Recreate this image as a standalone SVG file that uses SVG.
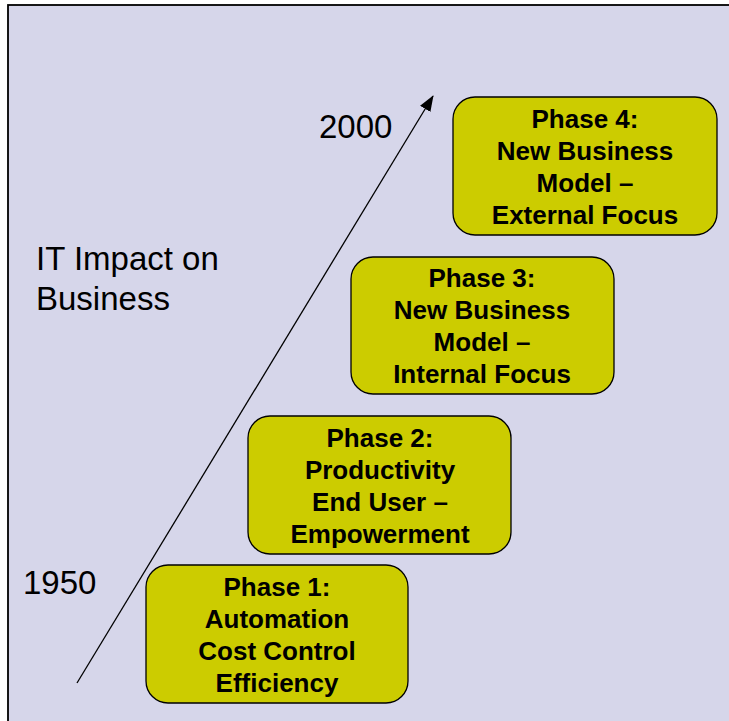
<svg xmlns="http://www.w3.org/2000/svg" width="729" height="721" viewBox="0 0 729 721">
<style>
.box{fill:#CCCC00;stroke:#000;stroke-width:1.3}
.bt{font-family:"Liberation Sans",Arial,sans-serif;font-weight:bold;font-size:26px;fill:#000;text-anchor:middle}
.lt{font-family:"Liberation Sans",Arial,sans-serif;font-size:33px;fill:#000}
</style>
<defs>
<marker id="ah" markerWidth="10" markerHeight="10" refX="9" refY="5" orient="auto" markerUnits="userSpaceOnUse" viewBox="0 0 10 10">
<path d="M0,0 L10,5 L0,10 Z" fill="#000"/>
</marker>
<marker id="ah2" markerWidth="16" markerHeight="12" refX="15" refY="6" orient="auto" markerUnits="userSpaceOnUse" viewBox="0 0 16 12">
<path d="M0,0 L16,6 L0,12 Z" fill="#000"/>
</marker>
</defs>
<rect x="0" y="0" width="729" height="721" fill="#fff"/>
<rect x="8" y="5" width="730" height="730" fill="#D6D6EA" stroke="#000" stroke-width="1.8"/>
<g id="connectors">
<line x1="77" y1="683" x2="433" y2="96" stroke="#000" stroke-width="1.3" marker-end="url(#ah2)"/>
</g>
<g id="label-impact">
<text class="lt" x="36" y="270">IT Impact on</text>
<text class="lt" x="36" y="310">Business</text>
</g>
<g id="label-2000"><text class="lt" x="319" y="138">2000</text></g>
<g id="label-1950"><text class="lt" x="23" y="594">1950</text></g>
<g id="phase1">
<rect class="box" x="146" y="565" width="262" height="138" rx="22"/>
<text class="bt" x="277" y="596">Phase 1:</text>
<text class="bt" x="277" y="628">Automation</text>
<text class="bt" x="277" y="660">Cost Control</text>
<text class="bt" x="277" y="692">Efficiency</text>
</g>
<g id="phase2">
<rect class="box" x="248" y="416" width="263" height="138" rx="22"/>
<text class="bt" x="380" y="447">Phase 2:</text>
<text class="bt" x="380" y="479">Productivity</text>
<text class="bt" x="380" y="511">End User –</text>
<text class="bt" x="380" y="543">Empowerment</text>
</g>
<g id="phase3">
<rect class="box" x="351" y="257" width="263" height="137" rx="22"/>
<text class="bt" x="482" y="287">Phase 3:</text>
<text class="bt" x="482" y="319">New Business</text>
<text class="bt" x="482" y="351">Model –</text>
<text class="bt" x="482" y="383">Internal Focus</text>
</g>
<g id="phase4">
<rect class="box" x="453" y="97" width="264" height="138" rx="22"/>
<text class="bt" x="585" y="128">Phase 4:</text>
<text class="bt" x="585" y="160">New Business</text>
<text class="bt" x="585" y="192">Model –</text>
<text class="bt" x="585" y="224">External Focus</text>
</g>
</svg>
